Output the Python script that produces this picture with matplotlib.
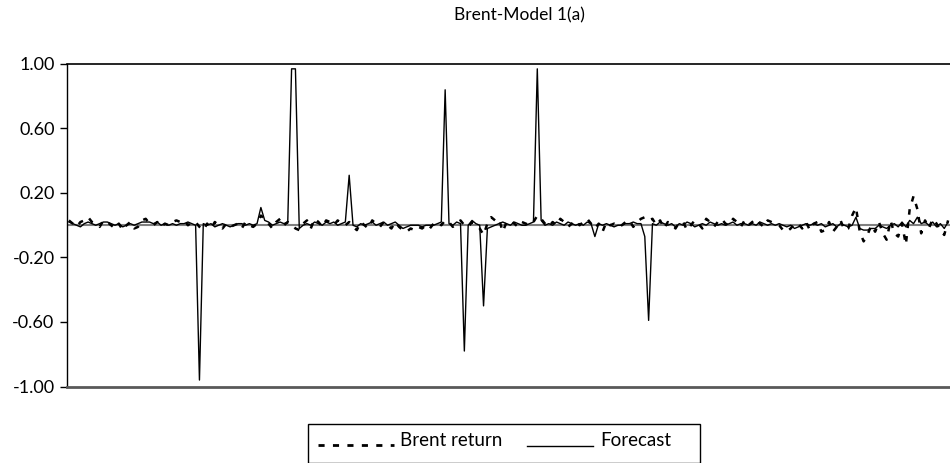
import numpy as np
import matplotlib
matplotlib.use("Agg")
import matplotlib.pyplot as plt
from matplotlib.lines import Line2D
from matplotlib.patches import Rectangle

plt.rcParams['font.family'] = ['Lato', 'DejaVu Sans']
plt.rcParams['axes.unicode_minus'] = False

title = "Brent-Model 1(a)"
series_names = ["Brent return", "Forecast"]
y_ticks = [1.00, 0.60, 0.20, -0.20, -0.60, -1.00]

# Forecast (solid line)
forecast = [
    0.02, 0.01, 0.0, -0.01, 0.01, 0.02, 0.01, 0.0, 0.01, 0.02,
    0.02, 0.01, 0.0, 0.01, -0.01, 0.0, 0.01, 0.0, 0.01, 0.02,
    0.02, 0.02, 0.01, 0.02, 0.0, 0.01, 0.0, 0.01, 0.0, 0.01,
    0.01, 0.02, 0.01, 0.0, -0.96, 0.01, 0.0, 0.01, -0.01, 0.0,
    0.01, 0.0, -0.01, 0.0, 0.01, 0.01, 0.0, 0.01, 0.0, 0.01,
    0.11, 0.03, 0.02, 0.0, 0.01, 0.02, 0.01, 0.02, 0.97, 0.97,
    -0.02, 0.0, 0.01, 0.0, 0.02, 0.01, 0.0, 0.02, 0.01, 0.02,
    0.0, 0.01, 0.02, 0.31, 0.0, -0.01, 0.01, 0.0, 0.01, 0.02,
    0.0, 0.01, 0.02, 0.0, 0.01, 0.02, 0.0, -0.02, -0.01, 0.0,
    0.0, 0.0, -0.01, 0.0, 0.0, 0.0, 0.01, 0.02, 0.84, 0.01,
    0.0, 0.02, 0.01, -0.78, 0.0, 0.03, 0.01, 0.0, -0.50, -0.02,
    -0.01, 0.0, 0.01, 0.02, 0.01, 0.0, 0.02, 0.01, 0.0, 0.0,
    0.01, 0.02, 0.97, 0.03, 0.0, 0.01, 0.0, 0.02, 0.01, 0.0,
    0.02, 0.01, 0.0, 0.01, 0.0, 0.02, 0.01, -0.07, 0.01, 0.0,
    0.01, 0.0, -0.01, 0.0, 0.0, 0.01, 0.01, 0.02, 0.01, 0.01,
    -0.07, -0.59, 0.01, 0.0, 0.02, 0.01, 0.0, 0.01, -0.01, 0.01,
    0.0, 0.02, 0.01, -0.01, 0.0, 0.01, 0.0, 0.02, 0.01, 0.0,
    0.01, 0.0, 0.01, 0.02, 0.0, 0.01, 0.01, 0.0, 0.01, 0.0,
    0.02, 0.01, 0.0, 0.01, 0.0, 0.01, 0.0, -0.01, 0.0, -0.02,
    -0.01, 0.0, 0.01, 0.0, 0.01, 0.0, 0.01, -0.01, 0.0, 0.01,
    -0.01, 0.01, 0.0, -0.01, 0.0, 0.05, -0.02, -0.03, -0.03, -0.02,
    -0.02, 0.0, -0.01, -0.02, 0.0, 0.01, -0.01, 0.02, -0.01, 0.03,
    0.01, 0.05, 0.01, 0.02, 0.0, 0.02, -0.01, 0.01, -0.02, 0.02,
]

# Brent return (dotted line)
brent_return = [
    0.03, 0.01, -0.01, 0.02, 0.03, 0.05, 0.02, 0.01, -0.01, 0.03,
    0.02, 0.0, -0.02, 0.01, -0.03, 0.0, 0.02, -0.02, -0.01, 0.03,
    0.04, 0.01, 0.0, 0.02, -0.01, 0.01, 0.0, 0.02, 0.03, 0.02,
    0.03, 0.0, 0.02, 0.02, -0.01, -0.03, 0.01, -0.02, 0.02, 0.0,
    -0.02, 0.01, -0.01, 0.0, 0.01, -0.02, 0.02, 0.0, -0.01, 0.01,
    0.06, 0.04, 0.01, -0.02, 0.02, 0.04, 0.0, 0.02, 0.01, -0.02,
    -0.03, 0.01, 0.03, -0.02, 0.04, 0.02, -0.01, 0.03, 0.02, 0.0,
    0.03, 0.01, 0.0, 0.02, -0.01, -0.03, 0.02, 0.0, -0.02, 0.03,
    0.01, -0.01, 0.02, 0.0, -0.02, 0.02, -0.01, -0.03, -0.04, -0.02,
    -0.03, -0.01, -0.02, 0.0, -0.02, 0.01, 0.02, 0.0, 0.03, 0.02,
    -0.01, 0.01, 0.03, 0.0, -0.01, 0.02, 0.0, -0.02, -0.06, 0.01,
    0.05, 0.03, 0.04, -0.04, 0.02, 0.03, 0.01, -0.01, 0.02, 0.01,
    0.0, 0.02, 0.06, 0.04, 0.01, -0.01, 0.02, 0.0, 0.04, 0.02,
    -0.01, 0.01, 0.03, 0.0, 0.02, 0.04, 0.01, -0.02, 0.01, -0.04,
    0.02, 0.0, 0.01, -0.01, 0.0, 0.02, 0.03, -0.01, 0.02, 0.04,
    0.05, 0.03, 0.04, 0.0, 0.03, -0.02, 0.02, 0.01, -0.02, 0.02,
    0.02, -0.03, 0.0, 0.03, 0.01, -0.02, 0.04, 0.02, -0.01, 0.02,
    0.04, 0.01, 0.0, 0.04, 0.02, -0.01, 0.03, 0.0, 0.02, 0.04,
    0.01, -0.01, 0.03, 0.02, 0.01, 0.0, -0.03, -0.04, -0.02, 0.01,
    0.01, -0.02, 0.02, -0.03, 0.01, 0.02, -0.04, -0.03, 0.02, -0.04,
    -0.01, 0.03, -0.03, -0.02, 0.06, 0.11, -0.04, -0.10, -0.06, 0.0,
    -0.04, 0.02, -0.05, -0.09, 0.03, -0.05, -0.07, 0.01, -0.12, 0.10,
    0.18, 0.10, -0.05, 0.03, -0.02, 0.04, 0.01, -0.03, -0.06, 0.03,
]

assert len(forecast) == len(brent_return)
x = np.arange(len(forecast))

W, H = 950, 463
fig = plt.figure(figsize=(W / 100, H / 100), dpi=100)
ax = fig.add_axes([67 / W, 1 - 386.5 / H, (W - 67) / W, (386.5 - 64) / H])

# zero line
ax.axhline(0, color='#808080', lw=1.5, zorder=1)
ax.plot(x, brent_return, color='black', lw=1.8, linestyle=(0, (2.2, 3.2)),
        dash_capstyle='butt', zorder=2)
ax.plot(x, forecast, color='black', lw=1.0, zorder=3)

ax.set_xlim(-0.5, len(x) - 0.5)
ax.set_ylim(-1, 1)
ax.set_yticks(y_ticks)
ax.set_yticklabels([f"{v:.2f}" for v in y_ticks], fontsize=13)
ax.set_xticks([])
ax.tick_params(axis='y', length=5, width=1, pad=4, direction='out')

ax.spines['right'].set_visible(False)
ax.spines['left'].set_linewidth(1.0)
ax.spines['top'].set_linewidth(1.2)
ax.spines['bottom'].set_color('#595959')
ax.spines['bottom'].set_linewidth(2.0)

fig.text(519 / W, 1 - 15 / H, title, ha='center', va='center', fontsize=12.5)

# legend box
fig.add_artist(Rectangle((308 / W, 0), (700 - 308) / W, 1 - 424 / H,
                         transform=fig.transFigure, fill=False,
                         edgecolor='black', lw=1.0))
fig.add_artist(Line2D([318 / W, 394 / W], [1 - 445 / H] * 2,
                      transform=fig.transFigure, color='black', lw=2.0,
                      linestyle=(0, (2.2, 3.0)), dash_capstyle='butt'))
fig.text(400 / W, 1 - 440 / H, series_names[0], ha='left', va='center', fontsize=13.5)
fig.add_artist(Line2D([527 / W, 593 / W], [1 - 446 / H] * 2,
                      transform=fig.transFigure, color='black', lw=1.0))
fig.text(600 / W, 1 - 440 / H, series_names[1], ha='left', va='center', fontsize=13.5)

fig.savefig("out.png", dpi=100)
